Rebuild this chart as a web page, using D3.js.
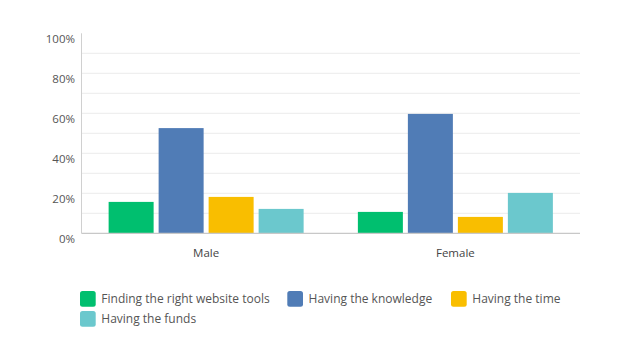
<!DOCTYPE html>
<html><head><meta charset="utf-8">
<script src="https://cdn.jsdelivr.net/npm/d3@7"></script>
<style>body{margin:0;background:#fff}text{font-family:"Open Sans",Lato,sans-serif}</style>
</head><body><svg id="c" width="620" height="340"></svg>
<script>
const categories = ["Male", "Female"];
const seriesNames = ["Finding the right website tools", "Having the knowledge", "Having the time", "Having the funds"];
const colors = ["#00bf6f", "#507cb6", "#f9be00", "#6bc8cd"];
const finding = [15.7, 10.7];
const knowledge = [52.6, 59.7];
const time = [18.2, 8.2];
const funds = [12.2, 20.2];
const yTicks = [0, 20, 40, 60, 80, 100];
const seriesValues = [finding, knowledge, time, funds];

(function () {
const svg = d3.select("#c");
const mLeft = 81.5, mRight = 580, mTop = 33.3, mBottom = 233.3;
const x = d3.scaleBand().domain(categories).range([mLeft, mRight]);
const y = d3.scaleLinear().domain([0, 100]).range([mBottom, mTop]);
const xi = d3.scaleBand().domain(seriesNames).range([0, 195]).paddingInner(0.1).paddingOuter(0);

svg.append("g").selectAll("line").data(d3.range(10, 100, 10)).join("line")
  .attr("x1", mLeft).attr("x2", mRight).attr("y1", d => y(d)).attr("y2", d => y(d))
  .attr("stroke", "#ebebeb").attr("stroke-width", 1);

svg.append("line").attr("x1", mLeft).attr("x2", mLeft).attr("y1", mTop).attr("y2", mBottom)
  .attr("stroke", "#d0d0d0");

svg.append("g").selectAll("text").data(yTicks).join("text")
  .attr("x", 75).attr("y", d => y(d) + 6).attr("dy", "0.35em")
  .attr("text-anchor", "end").attr("font-size", 11.5).attr("fill", "#555")
  .text(d => d + "%");

categories.forEach((c, ci) => {
  const g = svg.append("g").attr("transform", `translate(${x(c) + (x.bandwidth() - 195) / 2},0)`);
  g.selectAll("rect").data(seriesNames.map((s, si) => ({s, v: seriesValues[si][ci], col: colors[si]}))).join("rect")
    .attr("x", d => xi(d.s)).attr("width", xi.bandwidth())
    .attr("y", d => y(d.v)).attr("height", d => mBottom - y(d.v))
    .attr("fill", d => d.col);
});

svg.append("line").attr("x1", mLeft).attr("x2", mRight).attr("y1", mBottom).attr("y2", mBottom)
  .attr("stroke", "#c8c8c8").attr("stroke-width", 1.3);

svg.append("g").selectAll("text").data(categories).join("text")
  .attr("x", d => x(d) + x.bandwidth() / 2).attr("y", 253).attr("dy", "0.35em")
  .attr("text-anchor", "middle").attr("font-size", 11.5).attr("fill", "#444").text(d => d);

const legendPos = [[80, 291], [287.3, 291], [451, 291], [80, 311]];
const lg = svg.append("g").selectAll("g").data(seriesNames).join("g")
  .attr("transform", (d, i) => `translate(${legendPos[i][0]},${legendPos[i][1]})`);
lg.append("rect").attr("width", 15.7).attr("height", 15.7).attr("rx", 2.5).attr("fill", (d, i) => colors[i]);
lg.append("text").attr("x", 21.3).attr("y", 8).attr("dy", "0.35em").attr("font-size", 12)
  .attr("fill", "#555").text(d => d);
})();
</script></body></html>
